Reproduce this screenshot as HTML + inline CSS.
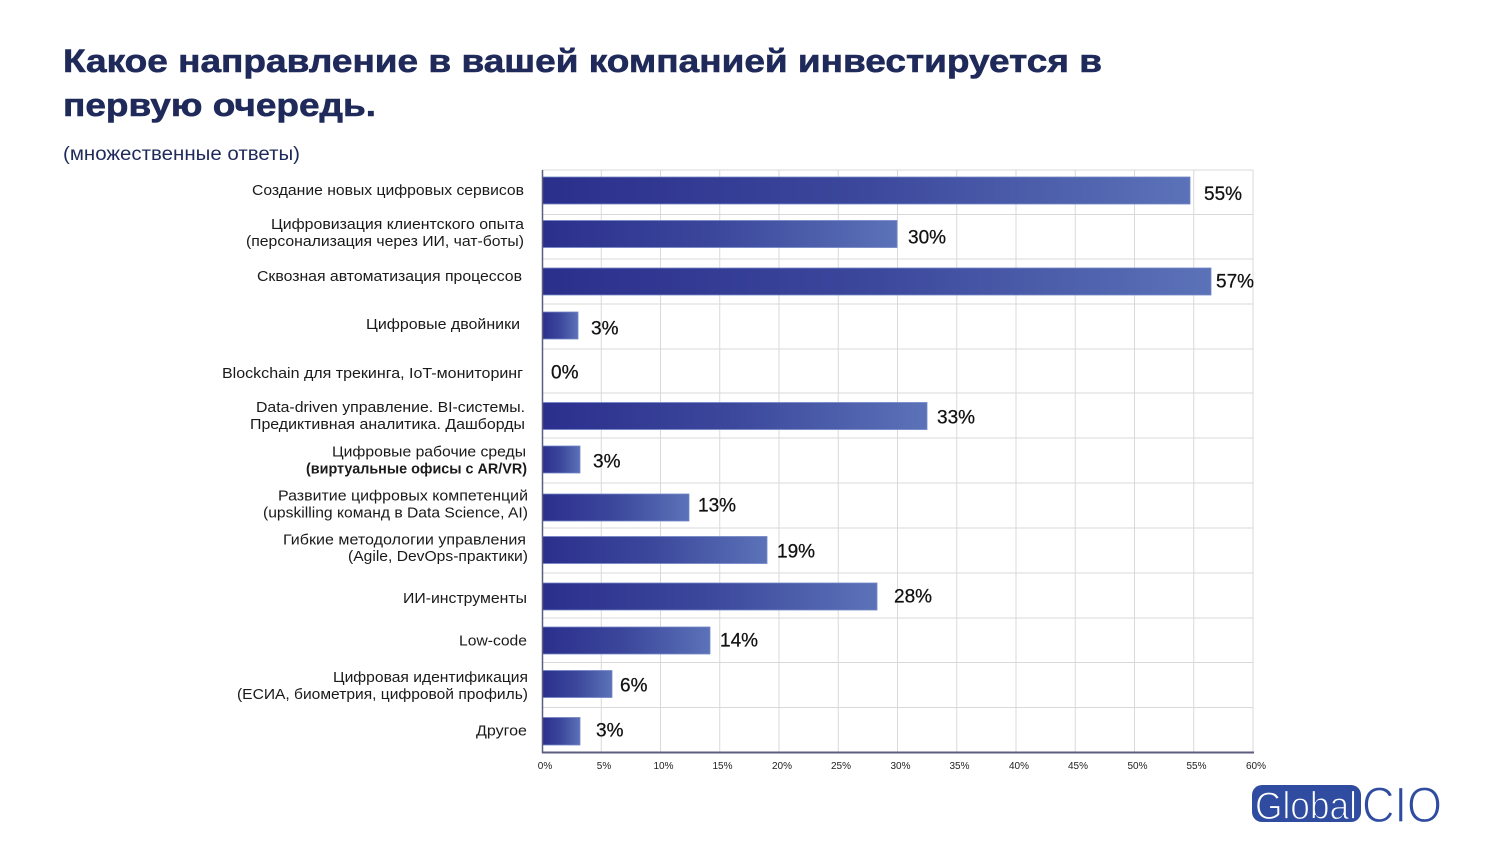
<!DOCTYPE html>
<html>
<head>
<meta charset="utf-8">
<style>
  html,body{margin:0;padding:0;background:#fff;}
  svg{display:block;}
  text{font-family:"Liberation Sans","Noto Sans CJK SC",sans-serif;}
</style>
</head>
<body>
<svg width="1500" height="844" viewBox="0 0 1500 844" xmlns="http://www.w3.org/2000/svg">
  <defs>
    <linearGradient id="bg" x1="0" y1="0" x2="1" y2="0">
      <stop offset="0" stop-color="#2b2f8c"/>
      <stop offset="0.5" stop-color="#3c489c"/>
      <stop offset="1" stop-color="#5b72b8"/>
    </linearGradient>
  </defs>
  <rect width="1500" height="844" fill="#fff"/>

  <!-- Title -->
  <text x="63" y="72" font-size="32.5" font-weight="bold" fill="#1f2a5a" stroke="#1f2a5a" stroke-width="0.6" textLength="1039" lengthAdjust="spacingAndGlyphs">Какое направление в вашей компанией инвестируется в</text>
  <text x="63" y="116" font-size="32.5" font-weight="bold" fill="#1f2a5a" stroke="#1f2a5a" stroke-width="0.6" textLength="313" lengthAdjust="spacingAndGlyphs">первую очередь.</text>
  <text x="63" y="160" font-size="19" fill="#1f2a5a" textLength="237" lengthAdjust="spacingAndGlyphs">(множественные ответы)</text>

  <!-- Gridlines -->
  <g stroke="#d9d9d9" stroke-width="1">
    <line x1="542" y1="170" x2="1253" y2="170"/>
    <line x1="542" y1="214.5" x2="1253" y2="214.5"/>
    <line x1="542" y1="259" x2="1253" y2="259"/>
    <line x1="542" y1="304" x2="1253" y2="304"/>
    <line x1="542" y1="349" x2="1253" y2="349"/>
    <line x1="542" y1="393" x2="1253" y2="393"/>
    <line x1="542" y1="438" x2="1253" y2="438"/>
    <line x1="542" y1="483" x2="1253" y2="483"/>
    <line x1="542" y1="528" x2="1253" y2="528"/>
    <line x1="542" y1="573" x2="1253" y2="573"/>
    <line x1="542" y1="618" x2="1253" y2="618"/>
    <line x1="542" y1="662.5" x2="1253" y2="662.5"/>
    <line x1="542" y1="707.5" x2="1253" y2="707.5"/>

    <line x1="601.25" y1="170" x2="601.25" y2="752"/>
    <line x1="660.5" y1="170" x2="660.5" y2="752"/>
    <line x1="719.75" y1="170" x2="719.75" y2="752"/>
    <line x1="779" y1="170" x2="779" y2="752"/>
    <line x1="838.25" y1="170" x2="838.25" y2="752"/>
    <line x1="897.5" y1="170" x2="897.5" y2="752"/>
    <line x1="956.75" y1="170" x2="956.75" y2="752"/>
    <line x1="1016" y1="170" x2="1016" y2="752"/>
    <line x1="1075.25" y1="170" x2="1075.25" y2="752"/>
    <line x1="1134.5" y1="170" x2="1134.5" y2="752"/>
    <line x1="1193.75" y1="170" x2="1193.75" y2="752"/>
    <line x1="1253" y1="170" x2="1253" y2="752"/>
  </g>

  <!-- Bars -->
  <g fill="url(#bg)" stroke="#7486c6" stroke-width="0.8">
    <rect x="542.5" y="177" width="647.5" height="27"/>
    <rect x="542.5" y="220.5" width="354.5" height="27"/>
    <rect x="542.5" y="268" width="668.5" height="27"/>
    <rect x="542.5" y="312" width="35.5" height="27"/>
    <rect x="542.5" y="402.5" width="384.5" height="27"/>
    <rect x="542.5" y="446" width="37.5" height="27"/>
    <rect x="542.5" y="494" width="146.5" height="27"/>
    <rect x="542.5" y="536.5" width="224.5" height="27"/>
    <rect x="542.5" y="583" width="334.5" height="27"/>
    <rect x="542.5" y="627" width="167.5" height="27"/>
    <rect x="542.5" y="670.5" width="69.5" height="27"/>
    <rect x="542.5" y="717.5" width="37.5" height="27.5"/>
  </g>

  <!-- Axes -->
  <line x1="542.5" y1="170" x2="542.5" y2="753" stroke="#5d5d7c" stroke-width="1.5"/>
  <line x1="542" y1="752.5" x2="1254" y2="752.5" stroke="#5d5d80" stroke-width="2"/>

  <!-- Value labels -->
  <g font-size="19" fill="#111" stroke="#111" stroke-width="0.25">
    <text x="1204" y="200">55%</text>
    <text x="908" y="243.5">30%</text>
    <text x="1216" y="287.5">57%</text>
    <text x="591" y="334.5">3%</text>
    <text x="551" y="378.5">0%</text>
    <text x="937" y="423.5">33%</text>
    <text x="593" y="467.5">3%</text>
    <text x="698" y="511.5">13%</text>
    <text x="777" y="557.5">19%</text>
    <text x="894" y="602.5">28%</text>
    <text x="720" y="646.5">14%</text>
    <text x="620" y="691.5">6%</text>
    <text x="596" y="736.5">3%</text>
  </g>

  <!-- Category labels -->
  <g font-size="15" fill="#1a1a1a" text-anchor="end">
    <text x="524" y="195" textLength="272" lengthAdjust="spacingAndGlyphs">Создание новых цифровых сервисов</text>
    <text x="524" y="229" textLength="253" lengthAdjust="spacingAndGlyphs">Цифровизация клиентского опыта</text>
    <text x="524" y="246" textLength="278" lengthAdjust="spacingAndGlyphs">(персонализация через ИИ, чат-боты)</text>
    <text x="522" y="281" textLength="265" lengthAdjust="spacingAndGlyphs">Сквозная автоматизация процессов</text>
    <text x="520" y="329" textLength="154" lengthAdjust="spacingAndGlyphs">Цифровые двойники</text>
    <text x="523" y="378" textLength="301" lengthAdjust="spacingAndGlyphs">Blockchain для трекинга, IoT-мониторинг</text>
    <text x="525" y="412" textLength="269" lengthAdjust="spacingAndGlyphs">Data-driven управление. BI-системы.</text>
    <text x="525" y="429" textLength="275" lengthAdjust="spacingAndGlyphs">Предиктивная аналитика. Дашборды</text>
    <text x="526" y="456.5" textLength="194" lengthAdjust="spacingAndGlyphs">Цифровые рабочие среды</text>
    <text x="527" y="473.5" textLength="221" lengthAdjust="spacingAndGlyphs" font-weight="bold">(виртуальные офисы с AR/VR)</text>
    <text x="528" y="500.5" textLength="250" lengthAdjust="spacingAndGlyphs">Развитие цифровых компетенций</text>
    <text x="528" y="517.5" textLength="265" lengthAdjust="spacingAndGlyphs">(upskilling команд в Data Science, AI)</text>
    <text x="526" y="544.5" textLength="243" lengthAdjust="spacingAndGlyphs">Гибкие методологии управления</text>
    <text x="528" y="561" textLength="180" lengthAdjust="spacingAndGlyphs">(Agile, DevOps-практики)</text>
    <text x="527" y="603" textLength="124" lengthAdjust="spacingAndGlyphs">ИИ-инструменты</text>
    <text x="527" y="645.5" textLength="68" lengthAdjust="spacingAndGlyphs">Low-code</text>
    <text x="528" y="682" textLength="195" lengthAdjust="spacingAndGlyphs">Цифровая идентификация</text>
    <text x="528" y="699" textLength="291" lengthAdjust="spacingAndGlyphs">(ЕСИА, биометрия, цифровой профиль)</text>
    <text x="527" y="735.5" textLength="51" lengthAdjust="spacingAndGlyphs">Другое</text>
  </g>

  <!-- Tick labels -->
  <g font-size="10" fill="#222" text-anchor="middle">
    <text x="545" y="769">0%</text>
    <text x="604" y="769">5%</text>
    <text x="663.5" y="769">10%</text>
    <text x="722.5" y="769">15%</text>
    <text x="782" y="769">20%</text>
    <text x="841" y="769">25%</text>
    <text x="900.5" y="769">30%</text>
    <text x="959.5" y="769">35%</text>
    <text x="1019" y="769">40%</text>
    <text x="1078" y="769">45%</text>
    <text x="1137.5" y="769">50%</text>
    <text x="1196.5" y="769">55%</text>
    <text x="1256" y="769">60%</text>
  </g>

  <!-- Logo -->
  <rect x="1252" y="785" width="109" height="37" rx="10" ry="10" fill="#2f4ca0"/>
  <text x="1255" y="819" font-size="39" fill="#fff" stroke="#2f4ca0" stroke-width="1.2" textLength="102" lengthAdjust="spacingAndGlyphs">Global</text>
  <text x="1362" y="822" font-size="50" fill="#2f4ca0" stroke="#fff" stroke-width="1.2" textLength="80" lengthAdjust="spacingAndGlyphs">CIO</text>
</svg>
</body>
</html>
